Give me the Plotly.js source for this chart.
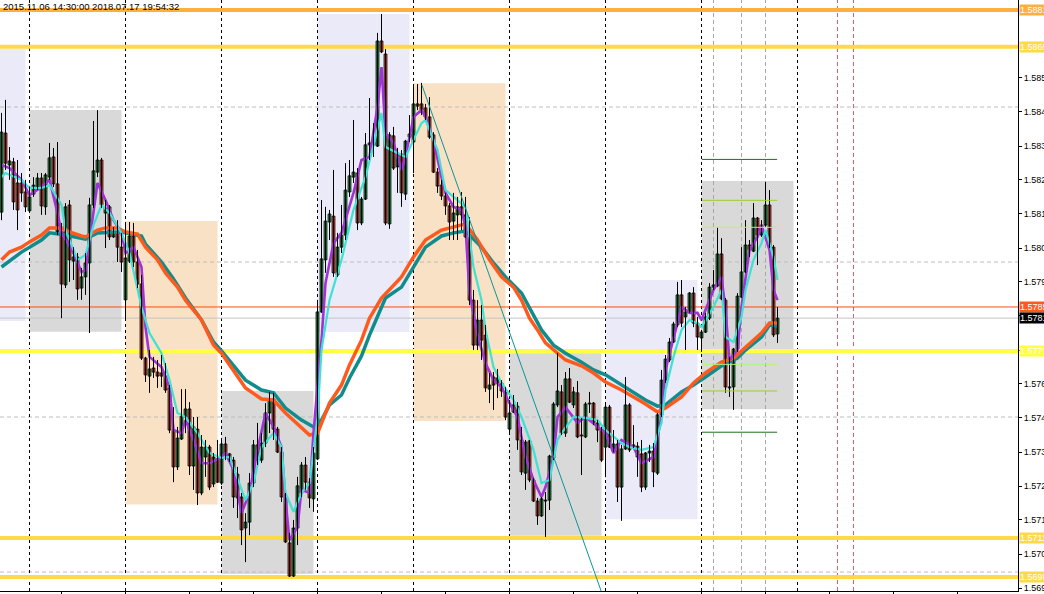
<!DOCTYPE html>
<html><head><meta charset="utf-8">
<script src="https://cdn.plot.ly/plotly-3.0.1.min.js"></script>
<style>html,body{margin:0;padding:0;background:#fff;overflow:hidden}#chart{width:1044px;height:594px}</style>
</head><body><div id="chart"></div>
<script>
// ---------- candle data (H1 bars, index 0..194) ----------
const openP = [1.58161,1.58416,1.58313,1.58323,1.58255,1.58255,1.58226,1.58165,1.58219,1.58242,
1.58271,1.58178,1.58274,1.58339,1.58252,1.58097,1.57926,1.58184,1.58003,1.58016,
1.57916,1.57952,1.57997,1.58184,1.58290,1.58329,1.58158,1.58178,1.58081,1.58097,
1.58048,1.57878,1.58003,1.58084,1.58000,1.57929,1.57690,1.57632,1.57658,1.57645,
1.57642,1.57632,1.57594,1.57458,1.57339,1.57429,1.57500,1.57526,1.57342,1.57461,
1.57255,1.57371,1.57403,1.57284,1.57365,1.57287,1.57413,1.57381,1.57361,1.57316,
1.57242,1.57142,1.57161,1.57287,1.57410,1.57361,1.57416,1.57513,1.57558,1.57461,
1.57387,1.57242,1.57094,1.56987,1.57142,1.57255,1.57345,1.57290,1.57236,1.57365,
1.57839,1.58007,1.58129,1.58148,1.57958,1.58048,1.58087,1.58226,1.58274,1.58287,
1.58126,1.58203,1.58378,1.58378,1.58374,1.58713,1.58671,1.58123,1.58407,1.58307,
1.58348,1.58219,1.58403,1.58387,1.58510,1.58510,1.58497,1.58468,1.58410,1.58290,
1.58248,1.58213,1.58181,1.58132,1.58152,1.58178,1.58152,1.58081,1.57877,1.57732,
1.57813,1.57764,1.57590,1.57629,1.57610,1.57610,1.57581,1.57461,1.57539,1.57535,
1.57426,1.57319,1.57423,1.57297,1.57229,1.57181,1.57229,1.57232,1.57368,1.57539,
1.57581,1.57448,1.57623,1.57539,1.57578,1.57442,1.57436,1.57542,1.57545,1.57481,
1.57461,1.57403,1.57532,1.57390,1.57413,1.57274,1.57397,1.57539,1.57410,1.57406,
1.57381,1.57274,1.57384,1.57390,1.57319,1.57507,1.57619,1.57684,1.57742,1.57797,
1.57894,1.57823,1.57839,1.57900,1.57803,1.57755,1.57774,1.57819,1.57919,1.57923,
1.58026,1.57877,1.57594,1.57597,1.57719,1.57887,1.57968,1.58055,1.58035,1.58142,
1.58087,1.58119,1.58184,1.58048,1.57768];
const highP = [1.58481,1.58523,1.58371,1.58336,1.58329,1.58287,1.58265,1.58242,1.58274,1.58287,
1.58287,1.58287,1.58384,1.58368,1.58387,1.58126,1.58190,1.58200,1.58048,1.58029,
1.57981,1.58029,1.58207,1.58455,1.58490,1.58336,1.58200,1.58184,1.58113,1.58135,
1.58094,1.58126,1.58129,1.58126,1.58039,1.57958,1.57694,1.57716,1.57694,1.57684,
1.57700,1.57674,1.57603,1.57532,1.57468,1.57590,1.57590,1.57548,1.57500,1.57500,
1.57442,1.57426,1.57410,1.57384,1.57426,1.57432,1.57436,1.57384,1.57371,1.57339,
1.57255,1.57190,1.57319,1.57426,1.57481,1.57448,1.57545,1.57581,1.57578,1.57468,
1.57403,1.57255,1.57126,1.57168,1.57307,1.57355,1.57371,1.57303,1.57403,1.57878,
1.58200,1.58178,1.58168,1.58297,1.58094,1.58184,1.58319,1.58329,1.58458,1.58303,
1.58210,1.58416,1.58529,1.58448,1.58739,1.58800,1.58687,1.58419,1.58436,1.58368,
1.58361,1.58394,1.58474,1.58574,1.58574,1.58578,1.58510,1.58532,1.58419,1.58303,
1.58265,1.58223,1.58190,1.58223,1.58210,1.58226,1.58210,1.58145,1.57910,1.57877,
1.57861,1.57797,1.57642,1.57645,1.57655,1.57619,1.57597,1.57555,1.57571,1.57548,
1.57468,1.57426,1.57426,1.57303,1.57239,1.57242,1.57258,1.57378,1.57548,1.57707,
1.57603,1.57645,1.57658,1.57597,1.57616,1.57497,1.57548,1.57581,1.57548,1.57490,
1.57468,1.57539,1.57539,1.57458,1.57426,1.57410,1.57629,1.57545,1.57474,1.57419,
1.57426,1.57387,1.57410,1.57416,1.57513,1.57652,1.57700,1.57755,1.57807,1.57936,
1.57942,1.57855,1.57903,1.57919,1.57823,1.57781,1.57836,1.57932,1.57974,1.58113,
1.58077,1.57884,1.57694,1.57723,1.57900,1.58048,1.58135,1.58071,1.58190,1.58145,
1.58135,1.58258,1.58232,1.58055,1.57855];
const lowP = [1.58135,1.58297,1.58265,1.58168,1.58103,1.58194,1.58161,1.58161,1.58210,1.58232,
1.58152,1.58152,1.58265,1.58242,1.58087,1.57819,1.57916,1.57936,1.57942,1.57878,
1.57878,1.57894,1.57771,1.58174,1.58274,1.58174,1.58045,1.58071,1.58078,1.58000,
1.57968,1.57813,1.57997,1.57984,1.57916,1.57684,1.57613,1.57578,1.57626,1.57594,
1.57597,1.57578,1.57448,1.57290,1.57329,1.57426,1.57448,1.57313,1.57265,1.57216,
1.57248,1.57307,1.57265,1.57274,1.57287,1.57281,1.57361,1.57355,1.57207,1.57174,
1.57087,1.57032,1.57119,1.57274,1.57345,1.57352,1.57403,1.57448,1.57426,1.57384,
1.57226,1.57094,1.56984,1.56984,1.57087,1.57242,1.57265,1.57207,1.57194,1.57361,
1.57836,1.57965,1.58071,1.57952,1.57952,1.58029,1.58071,1.58210,1.58255,1.58103,
1.58119,1.58200,1.58329,1.58339,1.58371,1.58674,1.58119,1.58107,1.58297,1.58223,
1.58178,1.58200,1.58387,1.58287,1.58490,1.58474,1.58458,1.58397,1.58287,1.58223,
1.58200,1.58152,1.58071,1.58071,1.58071,1.58103,1.58078,1.57861,1.57716,1.57716,
1.57684,1.57581,1.57545,1.57523,1.57561,1.57565,1.57490,1.57442,1.57513,1.57394,
1.57313,1.57265,1.57290,1.57226,1.57152,1.57178,1.57113,1.57200,1.57361,1.57532,
1.57442,1.57436,1.57545,1.57529,1.57432,1.57313,1.57432,1.57513,1.57474,1.57419,
1.57355,1.57306,1.57400,1.57387,1.57226,1.57165,1.57394,1.57387,1.57400,1.57307,
1.57258,1.57265,1.57355,1.57274,1.57313,1.57500,1.57610,1.57677,1.57739,1.57790,
1.57790,1.57716,1.57836,1.57790,1.57716,1.57710,1.57771,1.57813,1.57910,1.57919,
1.57877,1.57578,1.57565,1.57523,1.57710,1.57884,1.57965,1.58016,1.58032,1.57990,
1.58081,1.58113,1.58045,1.57758,1.57739];
const closeP = [1.58419,1.58319,1.58326,1.58194,1.58168,1.58223,1.58178,1.58210,1.58248,1.58271,
1.58181,1.58281,1.58336,1.58252,1.58097,1.57929,1.58178,1.58007,1.58016,1.57913,
1.57952,1.57997,1.58184,1.58294,1.58329,1.58184,1.58174,1.58081,1.58097,1.58048,
1.58000,1.58013,1.58084,1.58000,1.57929,1.57690,1.57636,1.57655,1.57645,1.57632,
1.57632,1.57587,1.57458,1.57339,1.57432,1.57503,1.57526,1.57342,1.57468,1.57255,
1.57403,1.57403,1.57274,1.57371,1.57290,1.57413,1.57378,1.57361,1.57242,1.57239,
1.57136,1.57161,1.57287,1.57410,1.57361,1.57416,1.57513,1.57558,1.57461,1.57387,
1.57242,1.57097,1.56987,1.57142,1.57278,1.57345,1.57290,1.57239,1.57384,1.57839,
1.58010,1.58132,1.58155,1.57965,1.58048,1.58087,1.58232,1.58278,1.58290,1.58126,
1.58203,1.58378,1.58384,1.58387,1.58713,1.58678,1.58126,1.58410,1.58303,1.58348,
1.58223,1.58390,1.58413,1.58510,1.58503,1.58490,1.58468,1.58403,1.58290,1.58245,
1.58213,1.58181,1.58129,1.58158,1.58178,1.58152,1.58081,1.57877,1.57732,1.57813,
1.57748,1.57594,1.57603,1.57603,1.57626,1.57584,1.57500,1.57513,1.57516,1.57426,
1.57323,1.57419,1.57297,1.57229,1.57181,1.57236,1.57232,1.57374,1.57542,1.57584,
1.57448,1.57623,1.57548,1.57581,1.57436,1.57439,1.57542,1.57545,1.57481,1.57458,
1.57361,1.57532,1.57403,1.57413,1.57274,1.57397,1.57539,1.57394,1.57403,1.57371,
1.57274,1.57384,1.57390,1.57323,1.57507,1.57619,1.57687,1.57742,1.57800,1.57894,
1.57803,1.57839,1.57900,1.57803,1.57758,1.57774,1.57823,1.57919,1.57926,1.58026,
1.57881,1.57597,1.57597,1.57719,1.57890,1.57968,1.58055,1.58039,1.58142,1.58087,
1.58119,1.58184,1.58048,1.57765,1.57819];

// ---------- moving averages ----------
const maRedIdx = [0,2,5,7,10,12,15,17,20,21,24,26,29,31,34,36,39,41,44,46,50,53,55,58,61,65,68,71,75,77,79,82,85,87,90,92,95,100,103,106,110,113,116,119,122,125,128,130,132,134,136,141,145,148,151,155,158,161,164,166,170,173,176,180,183,186,190,192,194];
const maRedVal = [1.58007,1.58032,1.58048,1.58065,1.58087,1.58110,1.58110,1.58097,1.58084,1.58081,1.58103,1.58110,1.58110,1.58097,1.58090,1.58048,1.58007,1.57965,1.57919,1.57877,1.57813,1.57732,1.57706,1.57652,1.57594,1.57558,1.57555,1.57513,1.57468,1.57442,1.57448,1.57545,1.57603,1.57668,1.57748,1.57819,1.57884,1.57952,1.58016,1.58071,1.58103,1.58113,1.58123,1.58071,1.58007,1.57952,1.57919,1.57877,1.57819,1.57781,1.57739,1.57684,1.57665,1.57642,1.57613,1.57587,1.57565,1.57542,1.57516,1.57529,1.57565,1.57610,1.57642,1.57677,1.57690,1.57726,1.57771,1.57803,1.57803];
const maTealIdx = [0,5,10,12,16,21,24,29,31,35,36,40,43,46,50,53,55,58,61,65,68,71,75,78,80,82,85,87,90,92,96,100,103,106,110,113,116,120,123,126,130,135,138,141,145,148,151,155,158,161,164,166,170,173,176,180,184,186,190,192,194];
const maTealVal = [1.57984,1.58032,1.58071,1.58094,1.58087,1.58074,1.58094,1.58097,1.58094,1.58084,1.58058,1.58000,1.57945,1.57884,1.57813,1.57742,1.57713,1.57668,1.57619,1.57587,1.57578,1.57529,1.57490,1.57468,1.57490,1.57539,1.57571,1.57626,1.57697,1.57764,1.57884,1.57919,1.57984,1.58048,1.58084,1.58094,1.58100,1.58048,1.57997,1.57952,1.57900,1.57781,1.57732,1.57706,1.57677,1.57652,1.57636,1.57603,1.57581,1.57555,1.57535,1.57539,1.57581,1.57603,1.57629,1.57665,1.57690,1.57716,1.57758,1.57797,1.57794];
const maCyanIdx = [0,1,5,7,10,12,15,16,19,21,23,25,27,30,32,35,37,40,42,44,46,49,52,55,57,60,61,63,65,68,70,71,73,75,77,79,80,82,85,88,91,95,96,99,101,103,105,106,109,111,114,116,118,120,121,123,125,128,130,133,135,137,139,140,143,146,149,151,155,157,160,163,165,166,168,170,172,174,175,178,180,181,183,185,186,188,190,191,193,194];
const maCyanVal = [1.58274,1.58287,1.58265,1.58239,1.58239,1.58248,1.58184,1.58103,1.58007,1.58023,1.58119,1.58184,1.58158,1.58094,1.58029,1.57855,1.57771,1.57706,1.57619,1.57513,1.57500,1.57448,1.57384,1.57368,1.57371,1.57265,1.57232,1.57287,1.57403,1.57448,1.57403,1.57255,1.57194,1.57255,1.57287,1.57500,1.57716,1.57877,1.58007,1.58168,1.58274,1.58481,1.58371,1.58352,1.58339,1.58394,1.58448,1.58458,1.58361,1.58232,1.58200,1.58178,1.57984,1.57877,1.57781,1.57661,1.57610,1.57555,1.57500,1.57394,1.57287,1.57297,1.57426,1.57448,1.57500,1.57497,1.57490,1.57458,1.57416,1.57403,1.57394,1.57403,1.57481,1.57587,1.57694,1.57781,1.57813,1.57803,1.57790,1.57855,1.57910,1.57758,1.57742,1.57823,1.57910,1.58007,1.58061,1.58103,1.58016,1.57942];
const maPurpleIdx = [0,2,5,7,10,12,14,15,18,20,21,23,24,26,28,30,31,33,35,36,37,40,42,43,45,46,48,50,52,55,56,58,60,62,64,66,68,70,71,72,74,75,77,78,80,81,83,85,88,90,92,94,95,96,98,100,101,103,105,106,108,110,111,113,115,116,117,119,121,123,125,127,129,131,133,135,136,138,139,141,144,146,149,151,153,155,158,160,163,165,166,168,169,170,172,174,175,178,180,181,182,184,185,187,189,190,192,193,194];
const maPurpleVal = [1.58313,1.58303,1.58265,1.58216,1.58242,1.58265,1.58158,1.58094,1.58029,1.57968,1.57974,1.58158,1.58255,1.58200,1.58135,1.58094,1.58029,1.58048,1.57984,1.57790,1.57694,1.57661,1.57597,1.57458,1.57448,1.57490,1.57426,1.57351,1.57351,1.57371,1.57384,1.57329,1.57190,1.57255,1.57394,1.57513,1.57468,1.57403,1.57232,1.57103,1.57145,1.57265,1.57255,1.57448,1.57748,1.57932,1.58061,1.58094,1.58223,1.58329,1.58339,1.58500,1.58629,1.58416,1.58384,1.58297,1.58339,1.58468,1.58490,1.58468,1.58394,1.58274,1.58223,1.58178,1.58168,1.58113,1.57900,1.57764,1.57674,1.57619,1.57597,1.57545,1.57500,1.57371,1.57297,1.57242,1.57274,1.57371,1.57500,1.57532,1.57481,1.57500,1.57468,1.57448,1.57384,1.57426,1.57403,1.57351,1.57371,1.57500,1.57652,1.57758,1.57803,1.57855,1.57836,1.57836,1.57813,1.57910,1.57952,1.57845,1.57684,1.57716,1.57855,1.58039,1.58081,1.58119,1.58039,1.57910,1.57877];

// ---------- objects on the chart ----------
const dayStart = [-17,7,31,55,79,103,127,151,175];
const dayHigh = [1.58687,1.58490,1.58132,1.57584,1.58800,1.58577,1.57706,1.57942,1.58261];
const dayLow  = [1.57810,1.57775,1.57218,1.56994,1.57774,1.57487,1.57117,1.57170,1.57525];
const dayKind = ['lav','gray','peach','gray','lav','peach','gray','lav','gray'];
const gridLevels = [1.585,1.580,1.575,1.570];
const daySeparators = [7,31,55,79,103,127,151,175,199];
const grayMarkers = [178,185,191];
const redMarkers = [209,213];
const levelPrices = [1.58813,1.58694,1.57713,1.57110,1.56984];
const levelColors = ['#FDB03E','#FFDA48','#FFFF44','#FFDA48','#FFDA48'];
const askPrice = 1.57855, bidPrice = 1.57819;
const trendIdx = [105.1,149.9];
const trendVal = [1.58571,1.56939];
const pivotFrom = 175.1, pivotTo = 193.9;
const pivotLevels = [1.58331,1.58199,1.58112,1.57670,1.57584,1.57451];
const pivotColors = ['#1B6E1B','#9ACD32','#B6F27A','#B6F27A','#9ACD32','#1B6E1B'];
const yTickVals = [1.58594,1.58484,1.58374,1.58265,1.58155,1.58045,1.57936,1.57826,1.57716,1.57607,1.57497,1.57387,1.57277,1.57168,1.57058,1.56948];
// labels hidden in the picture behind the bid tag and the yellow level tag are left blank
const yTickHidden = [1.57826,1.57716];
const yTickText = yTickVals.map(v => yTickHidden.includes(v) ? '' : v.toFixed(5));
const xTickIdx = [15,31,47,63,79,95,111,127,143,159,175,191,207,223,239];
const headerText = '2015.11.06 14:30:00 2018.07.17 19:54:32';

const xRange = [-0.375, 254.125];
const yRange = [1.569388, 1.588452];

const idx = openP.map((_, i) => i);
const bodyBase = idx.map(i => Math.min(openP[i], closeP[i]));
const bodyLen = idx.map(i => Math.max(Math.abs(closeP[i] - openP[i]), 0.00001));
const bodyColor = idx.map(i => closeP[i] >= openP[i] ? '#1E9A40' : '#F0402A');
const wickX = [], wickY = [];
idx.forEach(i => { wickX.push(i, i, null); wickY.push(lowP[i], highP[i], null); });

const fillOf = {lav:'#EAEAF8', gray:'#D9D9D9', peach:'#F8E1C4'};
const shapes = [];
const hLine = (v, line) => ({type:'line', layer:'below', xref:'x', yref:'y', x0:xRange[0], x1:xRange[1], y0:v, y1:v, line});
const vLine = (v, line) => ({type:'line', layer:'below', xref:'x', yref:'y', x0:v, x1:v, y0:yRange[0], y1:yRange[1], line});
dayStart.forEach((s, k) => shapes.push({type:'rect', layer:'below', xref:'x', yref:'y',
  x0:s, x1:s+23, y0:dayLow[k], y1:dayHigh[k], fillcolor:fillOf[dayKind[k]], line:{width:0}}));
gridLevels.forEach(v => shapes.push(hLine(v, {color:'#BDBDBD', width:1, dash:'4px,3px'})));
daySeparators.forEach(v => shapes.push(vLine(v, {color:'#000', width:1, dash:'3px,3px'})));
grayMarkers.forEach(v => shapes.push(vLine(v, {color:'#A8A8A8', width:1, dash:'4px,3px'})));
redMarkers.forEach(v => shapes.push(vLine(v, {color:'#E06060', width:1, dash:'4px,3px'})));
levelPrices.forEach((v, k) => shapes.push(hLine(v, {color:levelColors[k], width:4})));
shapes.push(hLine(askPrice, {color:'#FF4A10', width:1}));
shapes.push(hLine(bidPrice, {color:'#C4C4C4', width:1}));
pivotLevels.forEach((v, k) => shapes.push({type:'line', layer:'above', xref:'x', yref:'y', x0:pivotFrom, x1:pivotTo, y0:v, y1:v,
  line:{color:pivotColors[k], width:1}}));

const lblFont = {family:'Liberation Sans, Arial, sans-serif', size:9, color:'#fff'};
const annotations = [{xref:'paper', yref:'paper', x:0, y:1, xanchor:'left', yanchor:'top', xshift:1, yshift:1,
  text:headerText, showarrow:false, font:{family:'Liberation Sans, Arial, sans-serif', size:9.5, color:'#000'}}];
const tagList = levelPrices.map((v, k) => ({v, c:levelColors[k]}));
tagList.push({v:askPrice, c:'#FF5A1E'}, {v:bidPrice, c:'#000000'});
tagList.forEach(t => annotations.push({xref:'paper', yref:'y', x:1, y:t.v, xanchor:'left', yanchor:'middle', xshift:1,
  text:t.v.toFixed(5), showarrow:false, bgcolor:t.c, borderpad:0, font:lblFont}));

const traces = [
  {type:'scatter', mode:'lines', x:maTealIdx, y:maTealVal, line:{color:'#108C8C', width:3.5}, hoverinfo:'skip'},
  {type:'scatter', mode:'lines', x:maRedIdx, y:maRedVal, line:{color:'#FF5A1E', width:3.5}, hoverinfo:'skip'},
  {type:'scatter', mode:'lines', x:maPurpleIdx, y:maPurpleVal, line:{color:'#A033D6', width:2.6}, hoverinfo:'skip'},
  {type:'scatter', mode:'lines', x:maCyanIdx, y:maCyanVal, line:{color:'#3CE2D4', width:2.2}, hoverinfo:'skip'},
  {type:'scatter', mode:'lines', x:wickX, y:wickY, line:{color:'#000', width:1}, hoverinfo:'skip', connectgaps:false},
  {type:'bar', x:idx, y:bodyLen, base:bodyBase, width:0.72, marker:{color:bodyColor, line:{color:'#000', width:0.8}}, hoverinfo:'skip'},
  {type:'scatter', mode:'lines', x:trendIdx, y:trendVal, line:{color:'#0A9696', width:1}, hoverinfo:'skip'}
];

const layout = {
  width:1044, height:594, margin:{l:0, r:26, t:0, b:3, pad:0},
  paper_bgcolor:'#fff', plot_bgcolor:'#fff', showlegend:false, barmode:'overlay',
  xaxis:{range:xRange, showgrid:false, zeroline:false,
    showline:true, linecolor:'#000', linewidth:1, ticks:'outside', ticklen:4, tickcolor:'#000',
    tickvals:xTickIdx, showticklabels:false, fixedrange:true},
  yaxis:{range:yRange, side:'right', showgrid:false, zeroline:false,
    showline:true, linecolor:'#000', linewidth:1, ticks:'outside', ticklen:3, tickcolor:'#000',
    tickvals:yTickVals, ticktext:yTickText, tickfont:{family:'Liberation Sans, Arial, sans-serif', size:9, color:'#000'},
    fixedrange:true},
  shapes, annotations
};
Plotly.newPlot('chart', traces, layout, {staticPlot:true, displayModeBar:false});
</script>
</body></html>
